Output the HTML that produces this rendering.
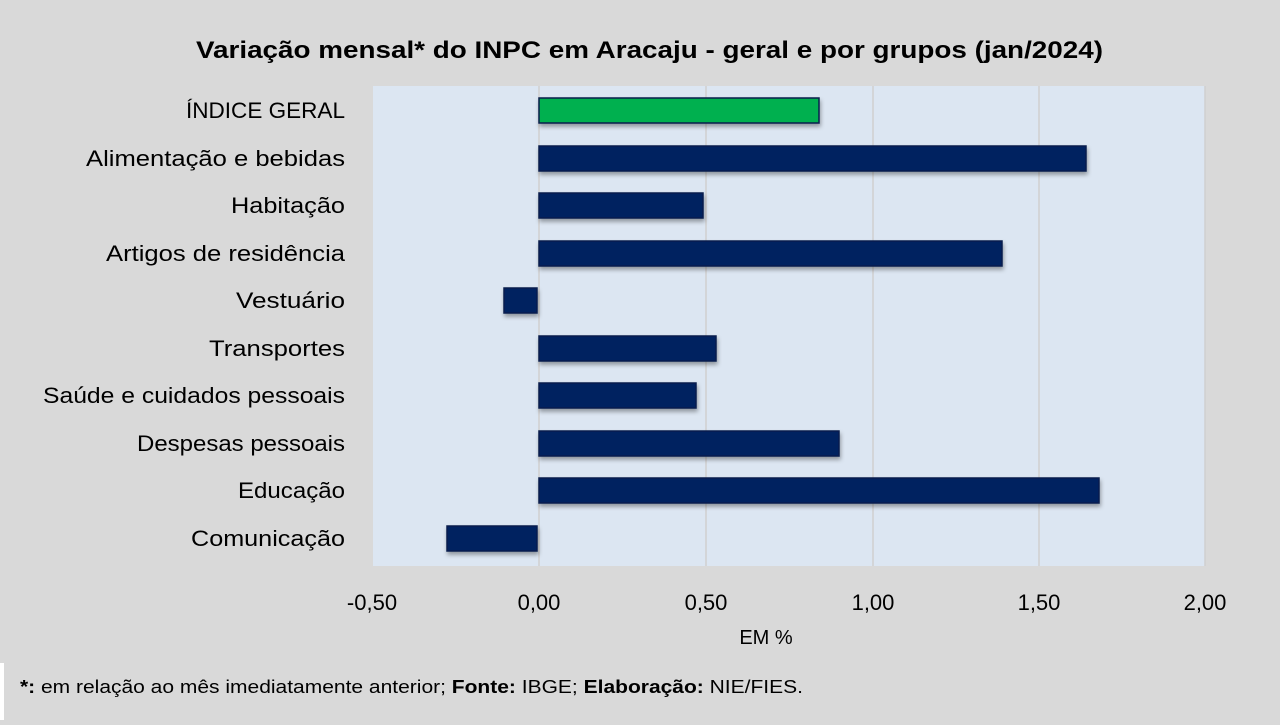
<!DOCTYPE html>
<html><head><meta charset="utf-8"><style>
body{margin:0;width:1280px;height:720px;background:#d9d9d9;overflow:hidden;font-family:"Liberation Sans",sans-serif}
</style></head><body>
<svg width="1280" height="720" xmlns="http://www.w3.org/2000/svg" font-family="Liberation Sans, sans-serif">
<defs><filter id="s" x="-5%" y="-30%" width="110%" height="170%"><feDropShadow dx="1" dy="3" stdDeviation="2" flood-color="#000" flood-opacity="0.35"/></filter></defs>
<rect x="0" y="0" width="1280" height="720" fill="#d9d9d9"/>
<rect x="0" y="663" width="4" height="57" fill="#fff"/>
<text x="196" y="58" textLength="907" lengthAdjust="spacingAndGlyphs" font-size="24" font-weight="bold" fill="#000">Variação  mensal* do INPC em Aracaju  - geral e por grupos (jan/2024)</text>
<rect x="373" y="86" width="832" height="480" fill="#dce6f2"/>
<g stroke="#d0cfcf" stroke-width="1.5">
<line x1="539" y1="86" x2="539" y2="566"/><line x1="706" y1="86" x2="706" y2="566"/><line x1="873" y1="86" x2="873" y2="566"/><line x1="1039" y1="86" x2="1039" y2="566"/><line x1="1205" y1="86" x2="1205" y2="566"/>
</g>
<g filter="url(#s)" stroke="#0d1f4d" stroke-width="1.5">
<rect x="539" y="98" width="280" height="25" fill="#00b050"/>
<rect x="539" y="146" width="547" height="25" fill="#002060"/>
<rect x="539" y="193" width="164" height="25" fill="#002060"/>
<rect x="539" y="241" width="463" height="25" fill="#002060"/>
<rect x="504" y="288" width="33" height="25" fill="#002060"/>
<rect x="539" y="336" width="177" height="25" fill="#002060"/>
<rect x="539" y="383" width="157" height="25" fill="#002060"/>
<rect x="539" y="431" width="300" height="25" fill="#002060"/>
<rect x="539" y="478" width="560" height="25" fill="#002060"/>
<rect x="447" y="526" width="90" height="25" fill="#002060"/>
</g>
<g font-size="22" fill="#000" lengthAdjust="spacingAndGlyphs">
<text x="186" y="118" textLength="159" lengthAdjust="spacingAndGlyphs">ÍNDICE GERAL</text>
<text x="86" y="166" textLength="259" lengthAdjust="spacingAndGlyphs">Alimentação e bebidas</text>
<text x="231" y="213" textLength="114" lengthAdjust="spacingAndGlyphs">Habitação</text>
<text x="106" y="261" textLength="239" lengthAdjust="spacingAndGlyphs">Artigos de residência</text>
<text x="236" y="308" textLength="109" lengthAdjust="spacingAndGlyphs">Vestuário</text>
<text x="209" y="356" textLength="136" lengthAdjust="spacingAndGlyphs">Transportes</text>
<text x="43" y="403" textLength="302" lengthAdjust="spacingAndGlyphs">Saúde e cuidados pessoais</text>
<text x="137" y="451" textLength="208" lengthAdjust="spacingAndGlyphs">Despesas pessoais</text>
<text x="238" y="498" textLength="107" lengthAdjust="spacingAndGlyphs">Educação</text>
<text x="191" y="546" textLength="154" lengthAdjust="spacingAndGlyphs">Comunicação</text>
</g>
<g font-size="22" fill="#000" text-anchor="middle">
<text x="372" y="610">-0,50</text><text x="539" y="610">0,00</text><text x="706" y="610">0,50</text><text x="873" y="610">1,00</text><text x="1039" y="610">1,50</text><text x="1205" y="610">2,00</text>
<text x="766" y="644" font-size="20">EM %</text>
</g>
<text x="20" y="693" font-size="18" fill="#000" textLength="783" lengthAdjust="spacingAndGlyphs"><tspan font-weight="bold">*:</tspan> em relação ao mês imediatamente  anterior; <tspan font-weight="bold">Fonte:</tspan> IBGE; <tspan font-weight="bold">Elaboração:</tspan> NIE/FIES.</text>
</svg>
</body></html>
